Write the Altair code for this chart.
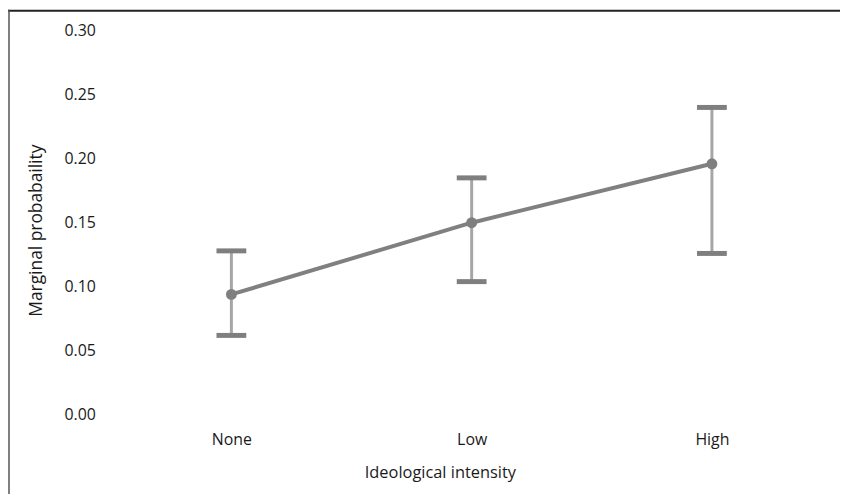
import altair as alt
import pandas as pd

categories = ["None", "Low", "High"]
estimate = [0.094, 0.150, 0.196]
lower = [0.062, 0.104, 0.126]
upper = [0.128, 0.185, 0.240]

df = pd.DataFrame({"cat": categories, "est": estimate, "lo": lower, "hi": upper})

FONT = "Open Sans"
TXT = "#1a1a1a"

x = alt.X("cat:N", sort=categories, scale=alt.Scale(type="point", padding=0.5),
          axis=alt.Axis(title="Ideological intensity", labelAngle=0, domain=False, ticks=False,
                        labelPadding=17, titlePadding=17, labelFontSize=16, titleFontSize=16.5,
                        labelFont=FONT, titleFont=FONT, labelColor=TXT, titleColor=TXT,
                        titleFontWeight="normal", titleX=331))
yscale = alt.Scale(domain=[0, 0.30], nice=False)
y = alt.Y("est:Q", scale=yscale,
          axis=alt.Axis(title="Marginal probabaility", values=[0, 0.05, 0.10, 0.15, 0.20, 0.25, 0.30],
                        format=".2f", domain=False, ticks=False, grid=False, labelPadding=16,
                        titlePadding=19, labelFontSize=16, titleFontSize=17.5, labelFont=FONT,
                        titleFont=FONT, labelColor=TXT, titleColor=TXT, titleFontWeight="normal",
                        titleY=201))

base = alt.Chart(df)

whisk = base.mark_rule(color="#a6a6a6", strokeWidth=3).encode(
    x=x, y=alt.Y("lo:Q", scale=yscale), y2="hi:Q")
cap_hi = base.mark_tick(color="#7f7f7f", size=30, thickness=5, opacity=1).encode(
    x=x, y=alt.Y("hi:Q", scale=yscale))
cap_lo = base.mark_tick(color="#7f7f7f", size=30, thickness=5, opacity=1).encode(
    x=x, y=alt.Y("lo:Q", scale=yscale))
line = base.mark_line(color="#808080", strokeWidth=4).encode(x=x, y=y)
pts = base.mark_circle(color="#7f7f7f", size=120, opacity=1).encode(x=x, y=y)

frame = alt.Chart(alt.Data(values=[{}]))
top_line = frame.mark_rule(color="#222222", strokeWidth=2).encode(
    x=alt.value(-104), x2=alt.value(740), y=alt.value(-20))
left_line = frame.mark_rule(color="#555555", strokeWidth=1.5).encode(
    x=alt.value(-103), y=alt.value(-21), y2=alt.value(480))

chart = alt.layer(whisk, cap_hi, cap_lo, line, pts, top_line, left_line).properties(
    width=726, height=387,
    autosize=alt.AutoSizeParams(type="none"),
    padding={"left": 104, "top": 21, "right": 8, "bottom": 78},
).configure_view(stroke=None).configure_axis(grid=False)

chart.save("out.html", embed_options={"renderer": "svg", "actions": False})
